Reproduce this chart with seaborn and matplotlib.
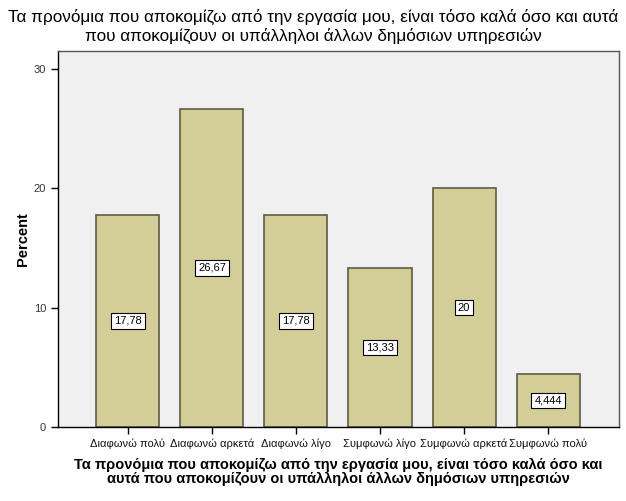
import matplotlib
matplotlib.use("Agg")
import matplotlib.pyplot as plt
import seaborn as sns
import pandas as pd

categories = ["Διαφωνώ πολύ", "Διαφωνώ αρκετά", "Διαφωνώ λίγο",
              "Συμφωνώ λίγο", "Συμφωνώ αρκετά", "Συμφωνώ πολύ"]
percent = [17.78, 26.67, 17.78, 13.33, 20.0, 4.444]
value_labels = ["17,78", "26,67", "17,78", "13,33", "20", "4,444"]
title = "Τα προνόμια που αποκομίζω από την εργασία μου, είναι τόσο καλά όσο και αυτά\nπου αποκομίζουν οι υπάλληλοι άλλων δημόσιων υπηρεσιών"
xlabel = "Τα προνόμια που αποκομίζω από την εργασία μου, είναι τόσο καλά όσο και\nαυτά που αποκομίζουν οι υπάλληλοι άλλων δημόσιων υπηρεσιών"

df = pd.DataFrame({"cat": categories, "pct": percent})

sns.set_style("white")
plt.rcParams["font.family"] = ["Liberation Sans", "DejaVu Sans"]

fig = plt.figure(figsize=(6.26, 5.01), dpi=100)
ax = fig.add_axes([58/626, 1 - 427/501, (619-58)/626, (427-51)/501])
ax.set_facecolor("#F0F0F0")

sns.barplot(data=df, x="cat", y="pct", ax=ax, color="#D3CE97", saturation=1,
            edgecolor="#5E5B45", linewidth=1.2, width=0.75)

for i, (v, lab) in enumerate(zip(percent, value_labels)):
    ax.text(i, v / 2, lab, ha="center", va="center", fontsize=8, color="black",
            bbox=dict(boxstyle="square,pad=0.25", fc="white", ec="black", lw=0.8))

ax.set_xlim(-0.833, 5.845)
ax.set_ylim(0, 31.5)
ax.set_yticks([0, 10, 20, 30])
ax.tick_params(axis="y", labelsize=8, length=5, width=1, direction="out", left=True,
               color="black", labelcolor="#333333")
ax.tick_params(axis="x", labelsize=8, length=5, width=1, direction="out", bottom=True,
               color="black", labelcolor="#111111")
for s in ax.spines.values():
    s.set_color("#555555")
    s.set_linewidth(1)
ax.spines["left"].set_color("black")
ax.spines["bottom"].set_color("black")

ax.set_ylabel("Percent", fontsize=10.5, fontweight="bold", labelpad=3, color="black")
ax.set_xlabel(xlabel, fontsize=10.5, fontweight="bold", labelpad=6, linespacing=1.05,
              color="black")
fig.text(0.5, 1 - 9/501, title, ha="center", va="top", fontsize=12.3,
         linespacing=1.22, color="black")

fig.savefig("out.png", dpi=100, facecolor="white")
